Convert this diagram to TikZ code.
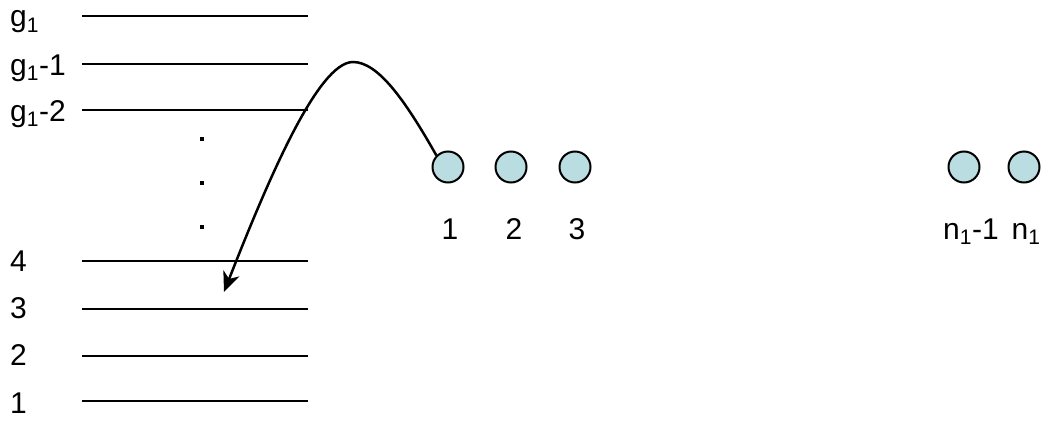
\documentclass[tikz,border=0pt]{standalone}
\usepackage{fontspec}
\setmainfont{Liberation Sans}
\usetikzlibrary{arrows.meta}
\definecolor{ballfill}{RGB}{185,221,224}
\newcommand{\lblfont}{\fontsize{30}{36}\selectfont}
\tikzset{
  level/.style={line width=2.4pt},
  lab/.style={anchor=base west, inner sep=0pt, font=\lblfont},
  clab/.style={anchor=base, inner sep=0pt, font=\lblfont},
  ball/.style={circle, draw=black, line width=2pt, fill=ballfill, minimum size=31pt, inner sep=0pt},
  vdot/.style={fill=black, minimum size=4pt, inner sep=0pt},
  jump/.style={line width=2.5pt, -{Stealth[length=20pt,width=17pt,inset=6pt]}}
}
\begin{document}
\begin{tikzpicture}[x=1pt,y=-1pt]
\useasboundingbox (0,0) rectangle (1043,420);
% level lines
\foreach \n/\y in {L1/16,L2/64,L3/110,L4/261,L5/309,L6/356,L7/401}{
  \coordinate (\n a) at (82,\y);
  \coordinate (\n b) at (308,\y);
  \draw[level] (\n a) -- (\n b);
}
% level labels
\node[lab] (t1) at (10,27) {g\textsubscript{1}};
\node[lab] (t2) at (10,75) {g\textsubscript{1}-1};
\node[lab] (t3) at (10,121) {g\textsubscript{1}-2};
\node[lab] (t4) at (10,271) {4};
\node[lab] (t5) at (10,318) {3};
\node[lab] (t6) at (10,365) {2};
\node[lab] (t7) at (10,413) {1};
% vertical dots
\node[vdot] (d1) at (202,139) {};
\node[vdot] (d2) at (202,183) {};
\node[vdot] (d3) at (202,227) {};
% balls
\node[ball] (b1) at (448,167) {};
\node[ball] (b2) at (511,167) {};
\node[ball] (b3) at (575,167) {};
\node[ball] (b4) at (964,167) {};
\node[ball] (b5) at (1024,167) {};
% ball labels
\node[clab] (c1) at (450,239) {1};
\node[clab] (c2) at (514,239) {2};
\node[clab] (c3) at (577,239) {3};
\node[clab] (c4) at (971,239) {n\textsubscript{1}-1};
\node[clab] (c5) at (1026,239) {n\textsubscript{1}};
% jump arrow
\coordinate (peak) at (353,62);
\coordinate (tip) at (224,292);
\draw[jump] (b1.135) .. controls (405,100) and (378,62) .. (peak)
  .. controls (318,62) and (268,180) .. (tip);
\end{tikzpicture}
\end{document}
